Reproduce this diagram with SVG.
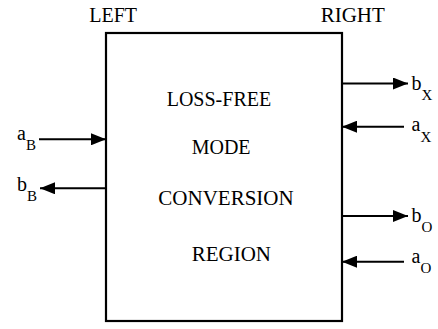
<svg xmlns="http://www.w3.org/2000/svg" width="438" height="329" viewBox="0 0 438 329">
<defs>
<marker id="ah" markerUnits="userSpaceOnUse" markerWidth="16" markerHeight="12" refX="15" refY="6" orient="auto">
<path d="M0,0 L15,6 L0,12 Z" fill="#000"/>
</marker>
</defs>
<rect width="438" height="329" fill="#fff"/>
<g id="region">
<rect x="106" y="33" width="236" height="288" fill="#fff" stroke="#000" stroke-width="2.2"/>
<text font-family="Liberation Serif" font-size="20" x="166.7" y="106">LOSS-FREE</text>
<text font-family="Liberation Serif" font-size="20" x="191.7" y="154">MODE</text>
<text font-family="Liberation Serif" font-size="21" x="158.3" y="205">CONVERSION</text>
<text font-family="Liberation Serif" font-size="21" x="191.7" y="261">REGION</text>
</g>
<g id="left-label"><text font-family="Liberation Serif" font-size="20" x="89.3" y="22">LEFT</text></g>
<g id="right-label"><text font-family="Liberation Serif" font-size="21" x="320.7" y="22">RIGHT</text></g>
<g id="connectors" stroke="#000" stroke-width="2" fill="none">
<line x1="39" y1="139.3" x2="106" y2="139.3" marker-end="url(#ah)"/>
<line x1="106" y1="188.3" x2="40" y2="188.3" marker-end="url(#ah)"/>
<line x1="342" y1="83.5" x2="408" y2="83.5" marker-end="url(#ah)"/>
<line x1="404" y1="126.7" x2="342" y2="126.7" marker-end="url(#ah)"/>
<line x1="342" y1="216" x2="408" y2="216" marker-end="url(#ah)"/>
<line x1="404" y1="261.7" x2="342" y2="261.7" marker-end="url(#ah)"/>
</g>
<g id="aB"><text font-family="Liberation Serif" font-size="20" x="17" y="140">a<tspan font-size="15" dy="10">B</tspan></text></g>
<g id="bB"><text font-family="Liberation Serif" font-size="20" x="17" y="191">b<tspan font-size="15" dy="10">B</tspan></text></g>
<g id="bX"><text font-family="Liberation Serif" font-size="20" x="411.5" y="90">b<tspan font-size="15" dy="10">X</tspan></text></g>
<g id="aX"><text font-family="Liberation Serif" font-size="20" x="411.5" y="130.5">a<tspan font-size="15" dy="11">X</tspan></text></g>
<g id="bO"><text font-family="Liberation Serif" font-size="20" x="411.5" y="221.5">b<tspan font-size="15" dy="10">O</tspan></text></g>
<g id="aO"><text font-family="Liberation Serif" font-size="20" x="411.5" y="263">a<tspan font-size="15" dy="9.5">O</tspan></text></g>
</svg>
